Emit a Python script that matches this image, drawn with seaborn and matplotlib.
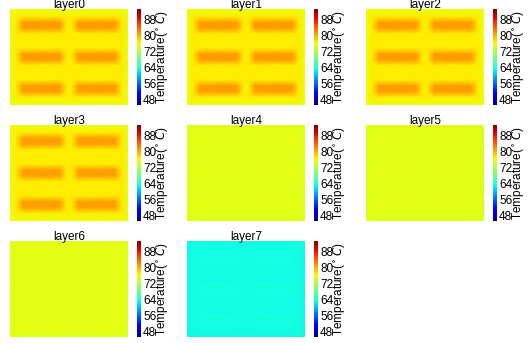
import numpy as np
import matplotlib.pyplot as plt
import seaborn as sns

# --- data (temperatures in deg C) ---
layer_names = ['layer0', 'layer1', 'layer2', 'layer3',
               'layer4', 'layer5', 'layer6', 'layer7']
edge_temp = [75.9, 75.9, 75.9, 75.9, 75.2, 75.2, 75.3, 63.3]   # outer rim of the die
gap_temp = [77.0, 77.0, 77.0, 77.0, 75.4, 75.4, 75.5, 63.4]    # between the chips
chip_temp = [81.3, 81.2, 81.2, 81.0, 75.6, 75.5, 75.6, 63.6]   # on top of the six chips

cbar_ticks = [48, 56, 64, 72, 80, 88]
t_min, t_max = 45.5, 93.5

# floorplan nodes (fraction of die width / height), 2 columns x 3 rows of chips
x_nodes = [0, 0.05, 0.11, 0.42, 0.48, 0.52, 0.58, 0.89, 0.95, 1.0]
y_nodes = [0, 0.08, 0.14, 0.20, 0.26, 0.41, 0.47, 0.53, 0.59,
           0.74, 0.80, 0.86, 0.92, 1.0]
chip_cols = [2, 3, 6, 7]
chip_rows = [2, 3, 6, 7, 10, 11]

# zone of each node: 0 = rim, 1 = gap, 2 = chip
zone = np.ones((len(y_nodes), len(x_nodes)), dtype=int)
zone[0, :] = 0
zone[-1, :] = 0
zone[:, 0] = 0
zone[:, -1] = 0
zone[np.ix_(chip_rows, chip_cols)] = 2

sns.set_theme(style='white')
plt.rcParams['font.family'] = ['Liberation Sans', 'DejaVu Sans']
plt.rcParams['text.color'] = 'black'
plt.rcParams['ytick.color'] = 'black'
plt.rcParams['axes.labelcolor'] = 'black'
cmap = plt.get_cmap('jet')  # seaborn refuses to hand out jet

W, H = 529, 343
fig = plt.figure(figsize=(W / 100, H / 100), dpi=100)

col_left = [10, 187, 366]
row_top = [9, 125, 241]
img_w, img_h = 118, 96

X, Y = np.meshgrid(x_nodes, y_nodes)

for i, name in enumerate(layer_names):
    r, c = divmod(i, 3)
    left, top = col_left[c], row_top[r]
    ax = fig.add_axes([left / W, 1 - (top + img_h) / H, img_w / W, img_h / H])
    field = np.choose(zone, [edge_temp[i], gap_temp[i], chip_temp[i]])
    mesh = ax.pcolormesh(X, Y, field, shading='gouraud', cmap=cmap,
                         vmin=t_min, vmax=t_max)
    ax.set_xlim(0, 1)
    ax.set_ylim(1, 0)
    ax.axis('off')
    ax.set_title(name, fontsize=8.5, pad=1.0, color='black')

    cax = fig.add_axes([(left + img_w + 9) / W, 1 - (top + img_h) / H,
                        4 / W, img_h / H])
    cb = fig.colorbar(mesh, cax=cax, ticks=cbar_ticks)
    cb.outline.set_visible(False)
    cb.ax.tick_params(labelsize=8.5, length=0, pad=1.5, labelcolor='black')
    cb.set_label('Temperature($^\\circ C$)', fontsize=8.5, labelpad=-1,
                 color='black')

fig.savefig('out.png', dpi=100)
